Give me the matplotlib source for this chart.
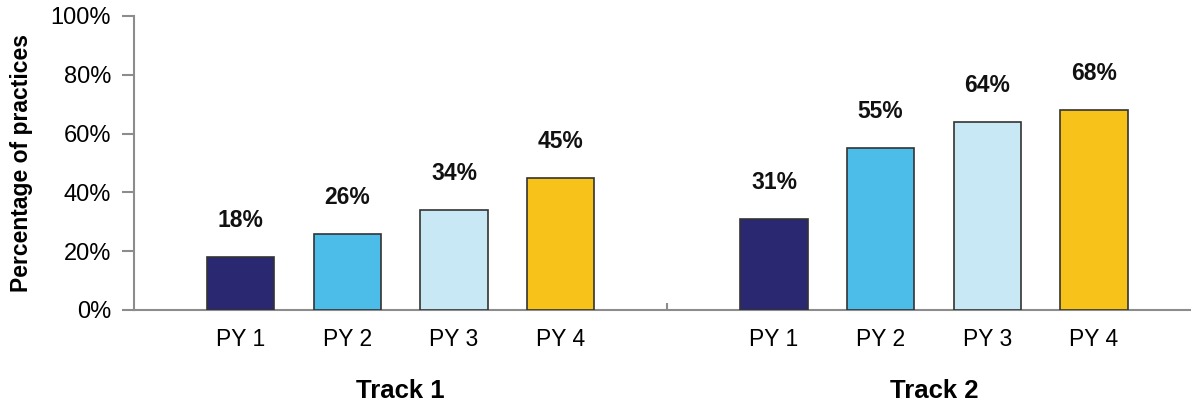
import numpy as np
import matplotlib.pyplot as plt

plt.rcParams['font.family'] = ['Liberation Sans', 'DejaVu Sans']

# data
tracks = ['Track 1', 'Track 2']
years = ['PY 1', 'PY 2', 'PY 3', 'PY 4']
track1 = [18, 26, 34, 45]
track2 = [31, 55, 64, 68]
colors = ['#2a2870', '#4cbde8', '#c7e8f4', '#f7c31a']

values = [track1, track2]

fig = plt.figure(figsize=(11.91, 4.04), dpi=100)
ax = fig.add_axes([0.1125, 0.2327, 0.8956, 0.7277])

grey = '#8c8c8c'
width = 0.126
xpos = []
xlab = []
for g, vals in enumerate(values):
    for i, v in enumerate(vals):
        x = g + (i + 1) * 0.2
        ax.bar(x, v, width=width, color=colors[i], edgecolor='#333333',
               linewidth=1.2, zorder=3)
        ax.annotate(f'{v}%', xy=(x, v), xytext=(0, 21.5),
                    textcoords='offset points', ha='center', va='baseline',
                    fontsize=16.5, fontweight='bold', color='#111111')
        xpos.append(x)
        xlab.append(years[i])
    ax.annotate(tracks[g], xy=(g + 0.5, 0), xycoords=('data', 'axes fraction'),
                xytext=(0, -58.5), textcoords='offset points',
                ha='center', va='center', fontsize=18.5, fontweight='bold')

ax.set_xlim(0, 2)
ax.set_ylim(0, 100)
ax.set_xticks(xpos)
ax.set_xticklabels(xlab, fontsize=16.5)
ax.tick_params(axis='x', length=0, pad=13)
ax.set_xticks([1], minor=True)
ax.tick_params(axis='x', which='minor', direction='in', length=5, width=1.5,
               color=grey)

ax.set_yticks(np.arange(0, 101, 20))
ax.set_yticklabels([f'{t}%' for t in range(0, 101, 20)], fontsize=17)
ax.tick_params(axis='y', direction='out', length=8.6, width=1.5, color=grey,
               pad=8)

for s in ['top', 'right']:
    ax.spines[s].set_visible(False)
for s in ['left', 'bottom']:
    ax.spines[s].set_color(grey)
    ax.spines[s].set_linewidth(1.5)

ax.set_ylabel('Percentage of practices', fontsize=16.5, fontweight='bold')
ax.yaxis.set_label_coords(-0.095, 0.5)

fig.savefig('out.png', dpi=100)
